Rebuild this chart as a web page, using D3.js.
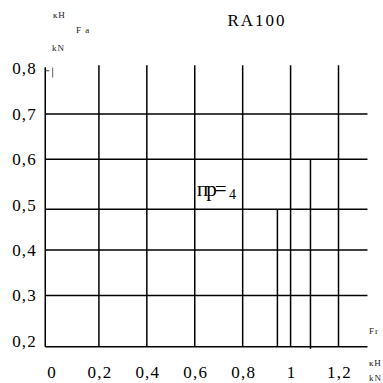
<!DOCTYPE html>
<html><head><meta charset="utf-8">
<script src="https://cdn.jsdelivr.net/npm/d3@7"></script>
<style>html,body{margin:0;padding:0;background:#fff}svg{display:block}</style>
</head><body>
<script>
// ---- data ----
const xTicks = [0, 0.2, 0.4, 0.6, 0.8, 1.0, 1.2];
const xTickLabels = ["0", "0,2", "0,4", "0,6", "0,8", "1", "1,2"];
const yTicks = [0.8, 0.7, 0.6, 0.5, 0.4, 0.3, 0.2];
const yTickLabels = ["0,8", "0,7", "0,6", "0,5", "0,4", "0,3", "0,2"];
const hLines = [0.7, 0.6, 0.49, 0.4, 0.3];          // full-width horizontal grid lines
const vLinesFull = [0.2, 0.4, 0.6, 0.8, 1.0, 1.2];   // full-height vertical lines
const vLinesPartialX = [0.945, 1.083];               // vertical lines starting lower
const vLinesPartialTop = [0.49, 0.6];
const xMin = -0.024, xMax = 1.321, yMin = 0.187, yMax = 0.807, yAxisTop = 0.803;
const title = "RA100";

const W = 383, H = 383;
const svg = d3.select("body").append("svg").attr("width", W).attr("height", H);
const x = d3.scaleLinear().domain([0, 1.2]).range([51, 338.5]);
const y = d3.scaleLinear().domain([0.2, 0.8]).range([340.9, 68.5]);
const serif = "'Liberation Serif','Times New Roman',serif";
const sw = 1.5;

// axes lines
svg.append("line").attr("x1", x(xMin)).attr("x2", x(xMin)).attr("y1", y(yAxisTop)).attr("y2", y(yMin))
  .attr("stroke", "#000").attr("stroke-width", sw);
svg.append("line").attr("x1", x(xMin)).attr("x2", x(xMax)).attr("y1", y(yMin)).attr("y2", y(yMin))
  .attr("stroke", "#000").attr("stroke-width", sw);

// horizontal lines
svg.selectAll(".h").data(hLines).enter().append("line")
  .attr("x1", x(xMin)).attr("x2", x(xMax)).attr("y1", d => y(d)).attr("y2", d => y(d))
  .attr("stroke", "#000").attr("stroke-width", sw);

// full vertical lines
svg.selectAll(".vf").data(vLinesFull).enter().append("line")
  .attr("x1", d => x(d)).attr("x2", d => x(d)).attr("y1", y(yMax)).attr("y2", y(yMin))
  .attr("stroke", "#000").attr("stroke-width", sw);

// partial vertical lines
svg.selectAll(".vp").data(vLinesPartialX).enter().append("line")
  .attr("x1", d => x(d)).attr("x2", d => x(d))
  .attr("y1", (d, i) => y(vLinesPartialTop[i]))
  .attr("y2", (d, i) => y(yMin) + (i === 1 ? 2 : 0))
  .attr("stroke", "#000").attr("stroke-width", sw);

// little mark near 0.8
svg.append("line").attr("x1", x(xMin)).attr("x2", x(xMin) + 4).attr("y1", y(0.795)).attr("y2", y(0.795))
  .attr("stroke", "#333").attr("stroke-width", 1);
svg.append("line").attr("x1", x(0.007)).attr("x2", x(0.007)).attr("y1", y(0.802)).attr("y2", y(0.78))
  .attr("stroke", "#666").attr("stroke-width", 1);

// y tick labels
svg.selectAll(".yl").data(yTicks).enter().append("text")
  .attr("x", 37).attr("y", d => y(d)).attr("dy", "0.35em")
  .attr("text-anchor", "end").attr("font-family", serif).attr("font-size", 17)
  .attr("letter-spacing", 1.2).text((d, i) => yTickLabels[i]);

// x tick labels
svg.selectAll(".xl").data(xTicks).enter().append("text")
  .attr("x", d => x(d) + 1).attr("y", 378)
  .attr("text-anchor", "middle").attr("font-family", serif).attr("font-size", 17)
  .attr("letter-spacing", 1.2).text((d, i) => xTickLabels[i]);

// title
svg.append("text").attr("x", 257).attr("y", 26).attr("text-anchor", "middle")
  .attr("font-family", serif).attr("font-size", 17).attr("letter-spacing", 2).text(title);

// unit labels
const small = (t, px, py, anchor) => svg.append("text").attr("x", px).attr("y", py)
  .attr("text-anchor", anchor || "start").attr("font-family", serif).attr("font-size", 9)
  .attr("letter-spacing", 1).attr("fill", "#222").text(t);
small("кН", 53, 18);
small("F a", 76, 33);
small("kN", 52, 51);
small("Fr", 369, 334);
small("кН", 369, 366);
small("kN", 369, 381);

// annotation
svg.append("text").attr("x", 197).attr("y", 196).attr("font-family", serif).attr("font-size", 21)
  .attr("letter-spacing", -2).text("пр=");
svg.append("text").attr("x", 229).attr("y", 199).attr("font-family", serif).attr("font-size", 14).text("4");
</script>
</body></html>
